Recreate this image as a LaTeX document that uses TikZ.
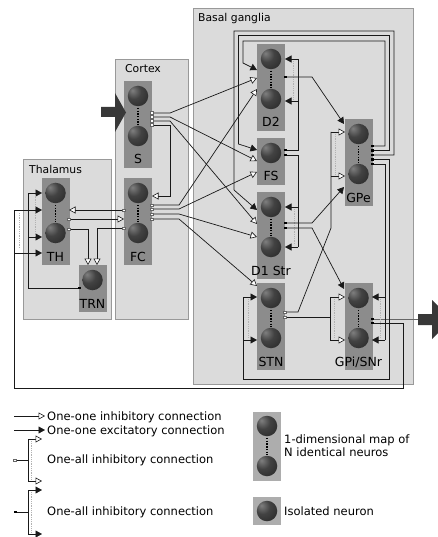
\documentclass[tikz,border=0pt]{standalone}
\usepackage{fontspec}
\setmainfont{DejaVu Sans}
\usetikzlibrary{arrows.meta}
\pgfdeclareradialshading{nball}{\pgfpoint{-14bp}{14bp}}{color(0bp)=(black!50); color(18bp)=(black!74); color(42bp)=(black!84); color(80bp)=(black!88)}
\newcommand\mapgrp[4]{%
  \node[grp, minimum width=28pt, minimum height=87pt, anchor=north] (#1) at (#2,#3) {};
  \node[neuron] (#1-a) at (#2,#3+15) {};
  \node[neuron] (#1-b) at (#2,#3+55) {};
  \draw[dotchain] (#2,#3+27) -- (#2,#3+44);
  \node[glabel] (#1-l) at (#2,#3+83) {#4};
}
\newcommand\onegrp[4]{%
  \node[grp, minimum width=28pt, minimum height=47pt, anchor=north] (#1) at (#2,#3) {};
  \node[neuron] (#1-a) at (#2,#3+15) {};
  \node[glabel] (#1-l) at (#2,#3+43) {#4};
}
\begin{document}
\begin{tikzpicture}[x=1pt,y=-1pt,
  region/.style={draw=black!40, fill=black!14, line width=0.8pt},
  grp/.style={fill=black!45, inner sep=0pt, outer sep=0pt},
  lgrp/.style={fill=black!32, inner sep=0pt, outer sep=0pt},
  neuron/.style={circle, minimum size=20.5pt, inner sep=0pt, shading=nball},
  dotchain/.style={line width=1.5pt, dash pattern=on 1.4pt off 1.3pt, black},
  wire/.style={draw=black!90, line width=0.7pt},
  inh/.style={wire, -{Triangle[length=6.5pt,width=7pt,fill=white,line width=0.6pt]}},
  exc/.style={wire, -{Triangle[length=6.5pt,width=7pt,line width=0.6pt]}},
  alld/.style={draw=black!30, line width=0.9pt, dash pattern=on 0.9pt off 0.9pt},
  termI/.style={rectangle, draw=black!60, fill=white, inner sep=0pt, minimum width=3pt, minimum height=2.6pt, line width=0.4pt},
  termE/.style={rectangle, fill=black, inner sep=0pt, minimum width=3pt, minimum height=2.2pt},
  boxtitle/.style={anchor=base west, inner sep=0pt, font=\fontsize{10.8}{13}\selectfont},
  glabel/.style={anchor=base, inner sep=0pt, font=\fontsize{12.5}{14}\selectfont},
  legtext/.style={anchor=base west, inner sep=0pt, font=\fontsize{11.5}{13}\selectfont},
]
\useasboundingbox[fill=white] (0,0) rectangle (438,537);

% regions
\path[region] (23,159) rectangle (111,319);
\path[region] (115,59) rectangle (188,319);
\path[region] (193,8) rectangle (413,384);
\node[boxtitle] (thal) at (29,174) {Thalamus};
\node[boxtitle] (cort) at (125,73) {Cortex};
\node[boxtitle] (bg) at (198,22) {Basal ganglia};

% groups
\mapgrp{S}{138}{81}{S}
\mapgrp{FC}{138}{178}{FC}
\mapgrp{TH}{55.5}{178}{TH}
\onegrp{TRN}{92.5}{265}{TRN}
\mapgrp{D2}{271}{44}{D2}
\onegrp{FS}{271}{138}{FS}
\mapgrp{D1}{271}{192}{D1 Str}
\mapgrp{STN}{271}{283}{STN}
\mapgrp{GPe}{358.5}{119}{GPe}
\mapgrp{GPi}{358.5}{283}{GPi/SNr}

% input / output arrows
\fill[black!78] (101,107) -- (115,107) -- (115,93) -- (126,112.5) -- (115,132) -- (115,117) -- (101,117) -- cycle;
\fill[black!78] (418,314) -- (432,314) -- (432,300) -- (452,319.5) -- (432,339) -- (432,325) -- (418,325) -- cycle;

% named end points
\coordinate (S-o1) at (152,113); \coordinate (S-o2) at (152,117);
\coordinate (S-o3) at (152,121); \coordinate (S-o4) at (152,125);
\coordinate (FC-l1) at (124,210); \coordinate (FC-l2) at (124,228);
\coordinate (FC-o1) at (152,205); \coordinate (FC-o2) at (152,209);
\coordinate (FC-o3) at (152,214); \coordinate (FC-o4) at (152,219);
\coordinate (FC-iS) at (152,196); \coordinate (FC-iT) at (124,219);
\coordinate (TH-o1) at (69,219); \coordinate (TH-o2) at (69,229);
\coordinate (TH-iF) at (69,210);
\coordinate (TH-r1) at (42,193); \coordinate (TH-g1) at (42,210);
\coordinate (TH-r2) at (42,237); \coordinate (TH-g2) at (42,253);
\coordinate (TRN-o) at (79,288);
\coordinate (TRN-i1) at (88,265); \coordinate (TRN-i2) at (97,265);
\coordinate (D2-e) at (257,70); \coordinate (D2-i1) at (257,78); \coordinate (D2-i2) at (257,89);
\coordinate (D2-r1) at (285,59); \coordinate (D2-r2) at (285,101); \coordinate (D2-o) at (285,77);
\coordinate (FS-e) at (257,150); \coordinate (FS-i1) at (257,161); \coordinate (FS-i2) at (257,172);
\coordinate (FS-o1) at (285,150); \coordinate (FS-o2) at (285,155);
\coordinate (D1-e) at (257,210); \coordinate (D1-i1) at (257,224); \coordinate (D1-i2) at (257,237);
\coordinate (D1-r1) at (285,207); \coordinate (D1-r2) at (285,247);
\coordinate (D1-o1) at (285,223); \coordinate (D1-o2) at (285,228);
\coordinate (STN-i) at (257,286); \coordinate (STN-e1) at (257,297); \coordinate (STN-e2) at (257,340);
\coordinate (STN-o1) at (285,312); \coordinate (STN-o2) at (285,317);
\coordinate (GPe-e1) at (344,124); \coordinate (GPe-i1) at (345,132);
\coordinate (GPe-i2) at (345,176); \coordinate (GPe-e2) at (344,187);
\coordinate (GPe-o1) at (372,146); \coordinate (GPe-o2) at (372,150.5);
\coordinate (GPe-o3) at (372,155); \coordinate (GPe-o4) at (372,159.5);
\coordinate (GPe-o5) at (372,164);
\coordinate (GPi-e) at (344,289); \coordinate (GPi-i1) at (345,297); \coordinate (GPi-i2) at (345,340);
\coordinate (GPi-r1) at (372,297); \coordinate (GPi-r2) at (372,340);
\coordinate (GPi-o1) at (372,319); \coordinate (GPi-o2) at (372,323);
\coordinate (OUT) at (418,319);

% cortex S
\draw[inh] (S-o1) -- (170,113) -- (D2-i1);
\draw[inh] (S-o2) -- (170,117) -- (FS-i1);
\draw[inh] (S-o3) -- (170,121) -- (D1-i1);
\draw[inh] (S-o4) -- (170,125) -- (170,196) -- (FC-iS);
% cortex FC
\draw[inh] (FC-o1) -- (179,205) -- (D2-i2);
\draw[inh] (FC-o2) -- (179,209) -- (FS-i2);
\draw[inh] (FC-o3) -- (179,214) -- (D1-i2);
\draw[inh] (FC-o4) -- (179,219) -- (STN-i);
\draw[inh] (FC-l1) -- (TH-iF);
\draw[inh] (FC-l2) -- (97,228) -- (TRN-i2);
% thalamus
\draw[inh] (TH-o1) -- (FC-iT);
\draw[inh] (TH-o2) -- (88,229) -- (TRN-i1);
\draw[wire] (TRN-o) -- (28,288) -- (28,193);
\draw[exc] (28,193) -- (TH-r1);
\draw[exc] (28,237) -- (TH-r2);
\draw[alld] (35,195) -- (35,235);
% GPi -> TH
\draw[wire] (GPi-o2) -- (403,323) -- (403,388) -- (14,388) -- (14,210);
\draw[exc] (14,210) -- (TH-g1);
\draw[exc] (14,253) -- (TH-g2);
\draw[alld] (19,213) -- (19,248);
\draw[wire, draw=black!60] (GPi-o1) -- (OUT);
% GPe loops
\draw[exc] (GPe-o1) -- (385,146) -- (385,41) -- (243,41) -- (243,63) -- (D2-e);
\draw[exc] (GPe-o2) -- (389.5,150.5) -- (389.5,35.5) -- (238.5,35.5) -- (238.5,144) -- (FS-e);
\draw[exc] (GPe-o3) -- (394,155) -- (394,31) -- (234,31) -- (234,190) -- (D1-e);
\draw[wire] (GPe-o4) -- (389.5,159.5) -- (389.5,379) -- (243,379) -- (243,297);
\draw[exc] (243,297) -- (STN-e1);
\draw[exc] (243,340) -- (STN-e2);
\draw[alld] (248,299) -- (248,338);
\draw[wire] (GPe-o5) -- (385,164) -- (385,340);
\draw[exc] (385,297) -- (GPi-r1);
\draw[exc] (385,340) -- (GPi-r2);
\draw[alld] (380.5,299) -- (380.5,338);
% FS
\draw[wire] (FS-o1) -- (298,150) -- (298,59);
\draw[exc] (298,59) -- (D2-r1);
\draw[exc] (298,101) -- (D2-r2);
\draw[alld] (293,61) -- (293,99);
\draw[wire] (FS-o2) -- (298,155) -- (298,247);
\draw[exc] (298,207) -- (D1-r1);
\draw[exc] (298,247) -- (D1-r2);
\draw[alld] (294,209) -- (294,245);
% striatum outputs
\draw[exc] (D2-o) -- (312,77) -- (GPe-e1);
\draw[exc] (D1-o1) -- (312,223) -- (GPe-e2);
\draw[exc] (D1-o2) -- (312,228) -- (GPi-e);
% STN outputs
\draw[wire] (STN-o1) -- (298,312) -- (331,228) -- (331,132);
\draw[inh] (331,132) -- (GPe-i1);
\draw[inh] (331,176) -- (GPe-i2);
\draw[alld] (335.5,134) -- (335.5,174);
\draw[wire] (STN-o2) -- (330,317);
\draw[wire] (330,297) -- (330,340);
\draw[inh] (330,297) -- (GPi-i1);
\draw[inh] (330,340) -- (GPi-i2);
\draw[alld] (334.5,299) -- (334.5,338);

% terminals
\foreach \t in {S-o1,S-o2,S-o3,S-o4,FC-o1,FC-o2,FC-o3,FC-o4,FC-l1,FC-l2,TH-o1,TH-o2,STN-o1,STN-o2}
  \node[termI] at (\t) {};
\foreach \t in {GPe-o1,GPe-o2,GPe-o3,GPe-o4,GPe-o5,D2-o,D1-o1,D1-o2,FS-o1,FS-o2,GPi-o1,GPi-o2,TRN-o}
  \node[termE] at (\t) {};

% legend
\coordinate (L1s) at (14,416); \coordinate (L1t) at (45,416);
\coordinate (L2s) at (14,430); \coordinate (L2t) at (45,430);
\draw[inh] (L1s) -- (L1t);
\draw[exc] (L2s) -- (L2t);
\node[legtext] (lt1) at (47,420) {One-one inhibitory connection};
\node[legtext] (lt2) at (47,434.5) {One-one excitatory connection};
\coordinate (L3s) at (15,460);
\draw[wire] (L3s) -- (28,460);
\draw[wire] (28,439) -- (28,481);
\draw[inh] (28,439) -- (42,439);
\draw[inh] (28,481) -- (42,481);
\draw[alld] (31.5,441) -- (31.5,479);
\node[termI] at (L3s) {};
\node[legtext] (lt3) at (47,463) {One-all inhibitory connection};
\coordinate (L4s) at (15,512);
\draw[wire] (L4s) -- (28,512);
\draw[wire] (28,490) -- (28,534);
\draw[exc] (28,490) -- (42,490);
\draw[exc] (28,534) -- (42,534);
\draw[alld] (31.5,492) -- (31.5,532);
\node[termE] at (L4s) {};
\node[legtext] (lt4) at (47,515) {One-all inhibitory connection};

\node[lgrp, minimum width=28pt, minimum height=69pt, anchor=north] (LM) at (267,412) {};
\node[neuron] (LM-a) at (267,426) {};
\node[neuron] (LM-b) at (267,466) {};
\draw[dotchain] (267,438) -- (267,455);
\node[legtext] (lt5) at (284,443.5) {1-dimensional map of};
\node[legtext] (lt6) at (284,456.5) {N identical neuros};
\node[lgrp, minimum width=28pt, minimum height=28pt, anchor=north] (LI) at (267,497) {};
\node[neuron] (LI-a) at (267,511) {};
\node[legtext] (lt7) at (284,515.5) {Isolated neuron};
\end{tikzpicture}
\end{document}
